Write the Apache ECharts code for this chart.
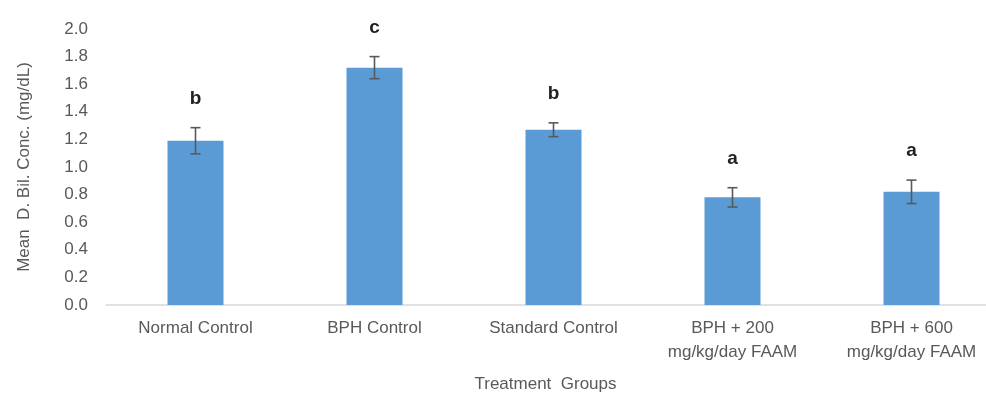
<!DOCTYPE html>
<html lang="en">
<head>
	<meta charset="UTF-8">
	<title>echarts</title>
    <script src="https://cdn.jsdelivr.net/npm/echarts@6/dist/echarts.min.js"></script>
</head>
<body style="margin:0;">

<div id="main" style="width: 986px;height:399px;"></div>

<script type="text/javascript">
// data
var groups = ['Normal Control', 'BPH Control', 'Standard Control', 'BPH + 200\nmg/kg/day FAAM', 'BPH + 600\nmg/kg/day FAAM'];
var means = [1.19, 1.72, 1.27, 0.78, 0.82];
var errs = [0.095, 0.08, 0.05, 0.07, 0.085];
var letters = ['b', 'c', 'b', 'a', 'a'];
var yTicks = [0, 0.2, 0.4, 0.6, 0.8, 1.0, 1.2, 1.4, 1.6, 1.8, 2.0];

var font = 'Liberation Sans';
var grey = '#595959';

var errData = [];
for (var i = 0; i < means.length; i++) {
    errData.push([i, means[i] - errs[i], means[i] + errs[i], letters[i]]);
}

var myChart = echarts.init(document.getElementById('main'));

var option = {
    animation: false,
    grid: {
        left: 106,
        top: 29,
        width: 895,
        bottom: 94,
        outerBoundsMode: 'none'
    },
    xAxis: {
        type: 'category',
        data: groups,
        name: 'Treatment  Groups',
        nameLocation: 'middle',
        nameGap: 71,
        nameTextStyle: { color: grey, fontSize: 17, fontFamily: font, padding: [0, 16, 0, 0] },
        axisLine: { lineStyle: { color: '#d9d9d9', width: 1.5 } },
        axisTick: { show: false },
        axisLabel: { color: grey, fontSize: 17, fontFamily: font, margin: 11, lineHeight: 24 }
    },
    yAxis: {
        type: 'value',
        min: yTicks[0],
        max: yTicks[yTicks.length - 1],
        interval: 0.2,
        name: 'Mean  D. Bil. Conc. (mg/dL)',
        nameLocation: 'middle',
        nameGap: 73,
        nameTextStyle: { color: grey, fontSize: 17, fontFamily: font },
        axisLine: { show: false },
        axisTick: { show: false },
        splitLine: { show: false },
        axisLabel: {
            color: grey, fontSize: 17, fontFamily: font, margin: 18,
            formatter: function (v) { return v.toFixed(1); }
        }
    },
    series: [
        {
            type: 'bar',
            data: means,
            barWidth: 56,
            itemStyle: { color: '#5b9bd5' }
        },
        {
            type: 'custom',
            data: errData,
            z: 10,
            renderItem: function (params, api) {
                var x = api.value(0);
                var lo = api.coord([x, api.value(1)]);
                var hi = api.coord([x, api.value(2)]);
                var cap = 5;
                var st = { stroke: '#595959', lineWidth: 1.6 };
                return {
                    type: 'group',
                    children: [
                        { type: 'line', shape: { x1: hi[0], y1: hi[1], x2: lo[0], y2: lo[1] }, style: st },
                        { type: 'line', shape: { x1: hi[0] - cap, y1: hi[1], x2: hi[0] + cap, y2: hi[1] }, style: st },
                        { type: 'line', shape: { x1: lo[0] - cap, y1: lo[1], x2: lo[0] + cap, y2: lo[1] }, style: st },
                        {
                            type: 'text',
                            x: hi[0],
                            y: hi[1] - 29,
                            style: {
                                text: letters[params.dataIndex],
                                fill: '#222222',
                                font: 'bold 19px "Liberation Sans"',
                                align: 'center',
                                verticalAlign: 'middle'
                            }
                        }
                    ]
                };
            }
        }
    ]
};

myChart.setOption(option);
</script>

</body>
</html>
